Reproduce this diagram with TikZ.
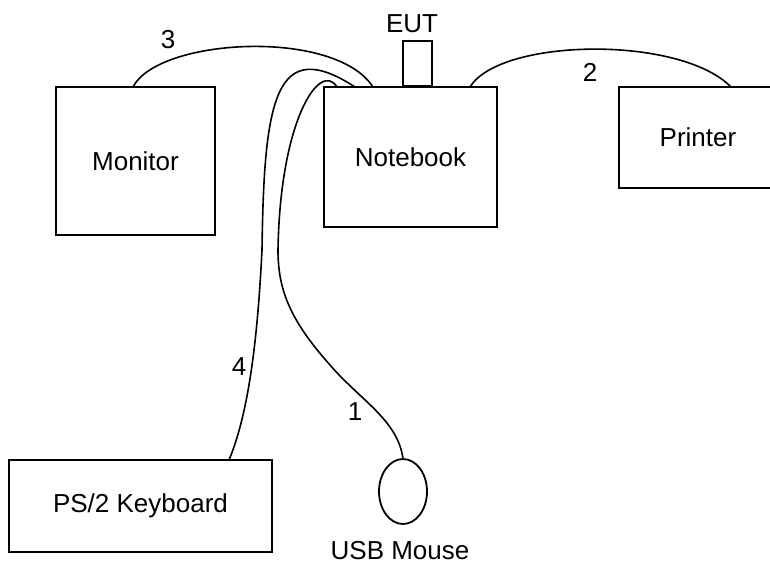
\documentclass[tikz,border=0pt]{standalone}
\usepackage{fontspec}
\setmainfont{Liberation Sans}
\usetikzlibrary{shapes.geometric}
\begin{document}
\begin{tikzpicture}[x=1pt,y=-1pt,
  box/.style={draw,line width=1.8pt,rectangle,inner sep=0pt,font=\fontsize{26}{30}\selectfont},
  lbl/.style={inner sep=0pt,font=\fontsize{26}{30}\selectfont},
  cable/.style={line width=1.6pt}]
\useasboundingbox (0,0) rectangle (770,567);
\clip (0,0) rectangle (770,567);
% boxes
\node[box,minimum width=159pt,minimum height=148pt] (mon) at (135.5,161) {Monitor};
\node[box,minimum width=173pt,minimum height=140pt] (nb) at (410.5,157) {Notebook};
\node[box,minimum width=158pt,minimum height=101pt] (pr) at (698,137.5) {Printer};
\node[box,minimum width=263pt,minimum height=92pt] (kb) at (140.5,506) {PS/2 Keyboard};
\node[draw,line width=1.8pt,ellipse,minimum width=48pt,minimum height=65pt,inner sep=0pt] (mouse) at (403,491.5) {};
\node[lbl] (mousel) at (400,551) {USB Mouse};
% EUT
\node[draw,line width=1.8pt,rectangle,minimum width=29pt,minimum height=45pt,inner sep=0pt,anchor=south] (eut) at (417.5,87) {};
\node[lbl] (eutl) at (412,24) {EUT};
% connection points
\coordinate (m3) at (133,87);
\coordinate (n3) at (373,87);
\coordinate (n2) at (470,87);
\coordinate (p2) at (731,87);
\coordinate (k4) at (229,460);
\coordinate (n4) at (355,87);
\coordinate (u1) at (403,459);
\coordinate (n1) at (337,87);
% cables
\draw[cable] (m3) .. controls (158,38) and (335,28) .. (n3);
\draw[cable] (n2) .. controls (500,38) and (680,35) .. (p2);
\draw[cable] (k4) .. controls (250,410) and (258,330) .. (262,250)
   .. controls (264,100) and (275,35) .. (n4);
\draw[cable] (u1) .. controls (398,420) and (360,400) .. (330,365)
   .. controls (290,320) and (278,290) .. (278,250)
   .. controls (280,120) and (320,60) .. (n1);
% labels
\node[lbl] (l3) at (168,40) {3};
\node[lbl] (l2) at (590,72) {2};
\node[lbl] (l4) at (239,367) {4};
\node[lbl] (l1) at (355,412) {1};
\end{tikzpicture}
\end{document}
